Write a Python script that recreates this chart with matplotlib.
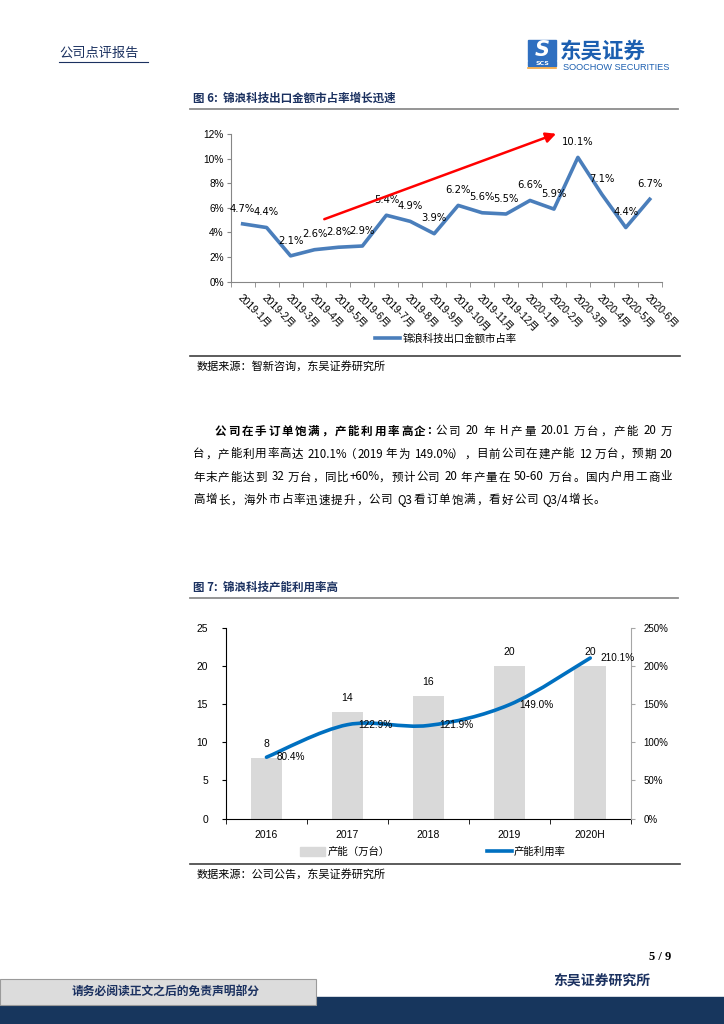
import re
import matplotlib
matplotlib.use('Agg')
import matplotlib.pyplot as plt
from matplotlib.path import Path
from matplotlib.patches import PathPatch, Rectangle
from matplotlib.lines import Line2D
from matplotlib.ticker import FuncFormatter, FixedLocator

plt.rcParams['font.family'] = ['Noto Sans CJK SC', 'DejaVu Sans']

# ---- data ----
months = ['2019-1月', '2019-2月', '2019-3月', '2019-4月', '2019-5月', '2019-6月',
          '2019-7月', '2019-8月', '2019-9月', '2019-10月', '2019-11月', '2019-12月',
          '2020-1月', '2020-2月', '2020-3月', '2020-4月', '2020-5月', '2020-6月']
share = [4.7, 4.4, 2.1, 2.6, 2.8, 2.9, 5.4, 4.9, 3.9, 6.2, 5.6, 5.5,
         6.6, 5.9, 10.1, 7.1, 4.4, 6.7]
years = ['2016', '2017', '2018', '2019', '2020H']
capacity = [8, 14, 16, 20, 20]
util = [80.4, 122.9, 121.9, 149.0, 210.1]

W, H = 724, 1024
NAVY = '#1B3160'
NUM = ['Liberation Sans', 'Noto Sans CJK SC']


def fx(p):
    return p / W


def fy(p):
    return 1 - p / H


fig = plt.figure(figsize=(7.24, 10.24), dpi=100)


def hline(x0, x1, y, color, lw):
    fig.add_artist(Line2D([fx(x0), fx(x1)], [fy(y), fy(y)], color=color, lw=lw,
                          transform=fig.transFigure))


def put_line(x0, x1, y, parts, size, color='black'):
    # place tokens so that the line is spread from x0 to x1 (justified text)
    items = []
    for text, weight in parts:
        gap = 0.0
        for m in re.finditer(r'\s+|[\x21-\x7e]+|[^\x00-\x7f]', text):
            t = m.group()
            if t.isspace():
                gap = 0.3
                continue
            w = 0.0
            for c in t:
                if ord(c) >= 128:
                    w += 1.0
                elif c == '%':
                    w += 0.85
                elif c in '.:/':
                    w += 0.28
                else:
                    w += 0.52
            items.append((t, weight, w, gap))
            gap = 0.0
    em = size * 100 / 72
    nat = sum(w + g for _, _, w, g in items) * em
    extra = ((x1 - x0) - nat) / max(len(items) - 1, 1)
    x = x0
    for i, (t, wt, w, g) in enumerate(items):
        if i > 0:
            x += g * em + extra
        fig.text(fx(x), fy(y), t, fontsize=size, weight=wt, ha='left', va='center',
                 color=color)
        x += w * em


# ---- header ----
fig.text(fx(59), fy(53), '公司点评报告', fontsize=9.5, color=NAVY, va='center')
hline(59, 148, 62, NAVY, 0.8)
fig.add_artist(Rectangle((fx(528), fy(60)), fx(28), 20 / H, color='#2F6FC0',
                         transform=fig.transFigure))
fig.text(fx(542), fy(50), 'S', fontsize=15, color='white', weight='bold',
         style='italic', ha='center', va='center', family='DejaVu Sans')
fig.add_artist(Rectangle((fx(528), fy(66)), fx(28), 5 / H, color='#2F6FC0',
                         transform=fig.transFigure))
fig.text(fx(542), fy(63.5), 'SCS', fontsize=4.5, color='white', weight='bold',
         ha='center', va='center', family='DejaVu Sans')
hline(528, 556, 67.5, '#F2A33A', 1.2)
fig.text(fx(560), fy(51), '东吴证券', fontsize=15.5, color='#1C5FB0', weight='bold',
         va='center')
fig.text(fx(563), fy(67), 'SOOCHOW SECURITIES', fontsize=6.6, color='#1C5FB0',
         va='center', family='Liberation Sans')

# ---- figure 6 ----
fig.text(fx(193), fy(98), '图 6:  锦浪科技出口金额市占率增长迅速', fontsize=8.3,
         weight='bold', color=NAVY, va='center')
hline(190, 678, 109, '#8C8C8C', 1.3)

ax1 = fig.add_axes([fx(230.7), fy(281.7), fx(431), 147.7 / H])
x1 = list(range(len(months)))
ax1.plot(x1, share, color='#4A7EBB', lw=2.6, solid_joinstyle='round',
         label='锦浪科技出口金额市占率')
for xi, v in zip(x1, share):
    ax1.annotate(f'{v:.1f}%', (xi, v), xytext=(0, 11), textcoords='offset points',
                 ha='center', va='center', fontsize=7.2, family='DejaVu Sans')
ax1.annotate('', xy=(13.2, 12.1), xytext=(3.3, 5.0), annotation_clip=False,
             arrowprops=dict(arrowstyle='-|>,head_length=0.6,head_width=0.3',
                             color='#FF0000', lw=1.8))
ax1.set_xlim(-0.5, len(months) - 0.5)
ax1.set_ylim(0, 12)
ax1.set_yticks([0, 2, 4, 6, 8, 10, 12])
ax1.yaxis.set_major_formatter(FuncFormatter(lambda v, p: f'{v:.0f}%'))
ax1.set_xticks(x1)
ax1.set_xticklabels(months, rotation=-45, ha='left', va='top',
                    rotation_mode='anchor', fontsize=7.4, family=NUM)
ax1.xaxis.set_minor_locator(FixedLocator([i - 0.5 for i in range(len(months) + 1)]))
ax1.tick_params(axis='x', which='major', length=0, pad=8)
ax1.tick_params(axis='x', which='minor', length=3.5, color='#868686')
ax1.tick_params(axis='y', length=3, color='#868686', labelsize=7.3, pad=2)
for lab in ax1.get_yticklabels():
    lab.set_family('Liberation Sans')
for s in ['top', 'right']:
    ax1.spines[s].set_visible(False)
for s in ['left', 'bottom']:
    ax1.spines[s].set_color('#868686')
    ax1.spines[s].set_linewidth(0.8)
ax1.legend(loc='center', bbox_to_anchor=(fx(446), fy(339)),
           bbox_transform=fig.transFigure, frameon=False, fontsize=7.5,
           handlelength=2.4, handletextpad=0.2)

hline(190, 680, 356, '#404040', 1.2)
fig.text(fx(197), fy(366), '数据来源：智新咨询，东吴证券研究所', fontsize=8, va='center')

# ---- paragraph ----
PS = 8.3
put_line(215, 672, 431, [('公司在手订单饱满，产能利用率高企:', 'bold'),
                         (' 公司 20 年 H 产量 20.01 万台，产能 20 万', 'normal')], PS)
put_line(193, 672, 454, [('台，产能利用率高达 210.1%（2019 年为 149.0%），目前公司在建产能 12 万台，预期 20',
                          'normal')], PS)
put_line(193, 672, 477, [('年末产能达到 32 万台，同比+60%，预计公司 20 年产量在 50-60 万台。国内户用工商业',
                          'normal')], PS)
put_line(193, 605, 500, [('高增长，海外市占率迅速提升，公司 Q3 看订单饱满，看好公司 Q3/4 增长。',
                          'normal')], PS)

# ---- figure 7 ----
fig.text(fx(193), fy(587), '图 7:  锦浪科技产能利用率高', fontsize=8.3,
         weight='bold', color=NAVY, va='center')
hline(190, 678, 598, '#8C8C8C', 1.3)

ax2 = fig.add_axes([fx(226), fy(818.7), fx(404.7), 191.2 / H])
x2 = list(range(len(years)))
bars = ax2.bar(x2, capacity, width=0.39, color='#D9D9D9', label='产能（万台）')
for xi, v in zip(x2, capacity):
    ax2.annotate(f'{v}', (xi, v), xytext=(0, 10), textcoords='offset points',
                 ha='center', va='center', fontsize=7.5, family='Liberation Sans')
ax2.set_xlim(-0.5, len(years) - 0.5)
ax2.set_ylim(0, 25)
ax2.set_yticks([0, 5, 10, 15, 20, 25])
ax2.set_xticks(x2)
ax2.set_xticklabels(years, fontsize=7.5, family='Liberation Sans')
ax2.xaxis.set_minor_locator(FixedLocator([i - 0.5 for i in range(len(years) + 1)]))
ax2.tick_params(axis='x', which='major', length=0, pad=8)
ax2.tick_params(axis='x', which='minor', length=3.5)
ax2.tick_params(axis='y', length=3, labelsize=7.4, pad=10)
for lab in ax2.get_yticklabels():
    lab.set_family('Liberation Sans')
ax2.spines['top'].set_visible(False)
ax2.spines['right'].set_visible(False)

ax2r = ax2.twinx()
# smoothed line (bezier through the data points)
verts = [(x2[0], util[0])]
codes = [Path.MOVETO]
n = len(util)
for i in range(n - 1):
    p0 = (x2[i - 1], util[i - 1]) if i > 0 else (x2[i], util[i])
    p1 = (x2[i], util[i])
    p2 = (x2[i + 1], util[i + 1])
    p3 = (x2[i + 2], util[i + 2]) if i + 2 < n else p2
    c1 = (p1[0] + (p2[0] - p0[0]) / 6, p1[1] + (p2[1] - p0[1]) / 6)
    c2 = (p2[0] - (p3[0] - p1[0]) / 6, p2[1] - (p3[1] - p1[1]) / 6)
    verts += [c1, c2, p2]
    codes += [Path.CURVE4] * 3
ax2r.add_patch(PathPatch(Path(verts, codes), facecolor='none', edgecolor='#0070C0',
                         lw=2.6, capstyle='round'))
for xi, v in zip(x2, util):
    ax2r.annotate(f'{v:.1f}%', (xi, v), xytext=(7.5, 0), textcoords='offset points',
                  ha='left', va='center', fontsize=7.2, family='Liberation Sans')
ax2r.set_ylim(0, 250)
ax2r.set_yticks([0, 50, 100, 150, 200, 250])
ax2r.yaxis.set_major_formatter(FuncFormatter(lambda v, p: f'{v:.0f}%'))
ax2r.tick_params(axis='y', length=3, color='#A6A6A6', labelsize=7, pad=6)
for lab in ax2r.get_yticklabels():
    lab.set_family('Liberation Sans')
ax2r.spines['top'].set_visible(False)
ax2r.spines['left'].set_visible(False)
ax2r.spines['bottom'].set_visible(False)
ax2r.spines['right'].set_color('#A6A6A6')

handles = [Rectangle((0, 0), 1, 1, color='#D9D9D9'),
           Line2D([], [], color='#0070C0', lw=2.6)]
fig.legend(handles, ['产能（万台）', '产能利用率'], loc='center',
           bbox_to_anchor=(fx(433), fy(852)), ncol=2, frameon=False, fontsize=7.5,
           handlelength=2.4, handleheight=0.9, handletextpad=0.2, columnspacing=9.3)

hline(190, 680, 864, '#404040', 1.2)
fig.text(fx(197), fy(874), '数据来源：公司公告，东吴证券研究所', fontsize=8, va='center')

# ---- footer ----
fig.text(fx(660), fy(957), '5 / 9', fontsize=9, weight='bold', ha='center',
         va='center', family='Liberation Serif')
fig.text(fx(602), fy(982), '东吴证券研究所', fontsize=10, weight='bold', ha='center',
         va='center', color=NAVY)
fig.add_artist(Rectangle((0, 0), 1, (H - 996.5) / H, color='#17365D',
                         transform=fig.transFigure))
fig.add_artist(Rectangle((0, fy(1005)), fx(316), 26 / H, facecolor='#DCDCDC',
                         edgecolor='#9A9A9A', lw=0.8, transform=fig.transFigure))
fig.text(fx(166), fy(992), '请务必阅读正文之后的免责声明部分', fontsize=8.5,
         weight='bold', ha='center', va='center', color=NAVY)

fig.savefig('out.png', dpi=100)
